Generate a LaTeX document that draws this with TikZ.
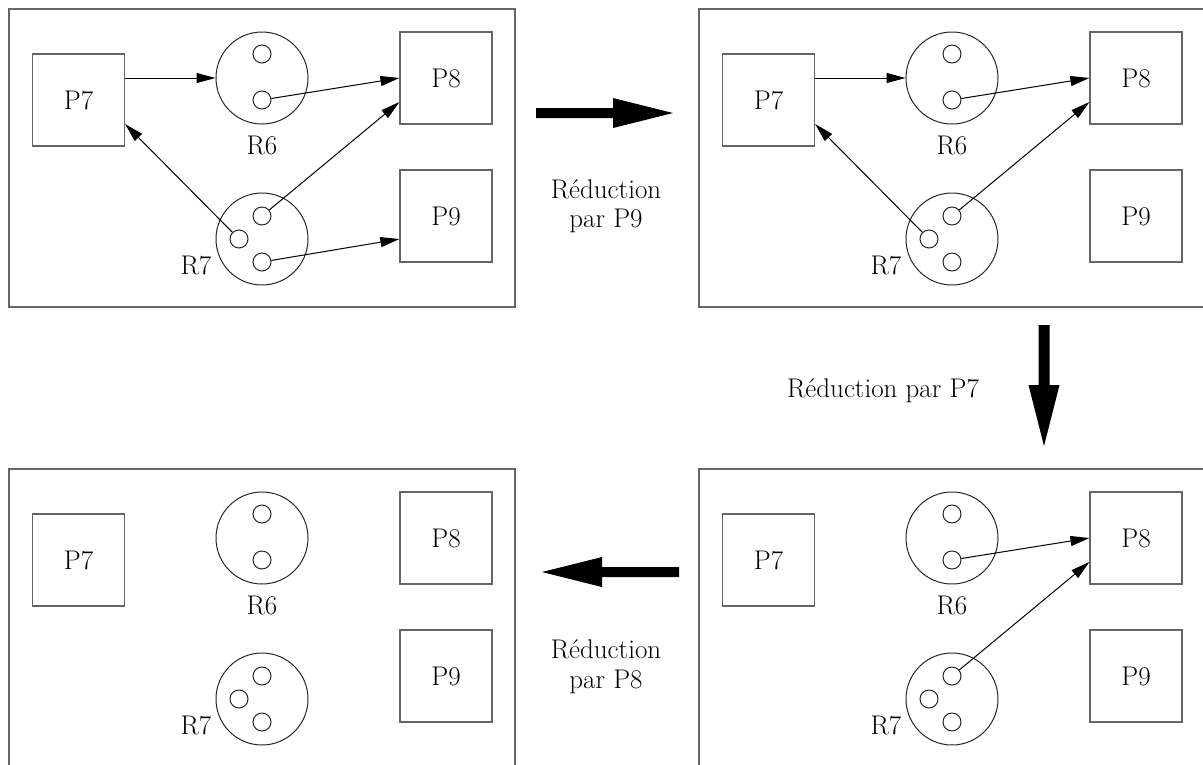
\documentclass[tikz,border=0pt]{standalone}
\usetikzlibrary{arrows.meta,calc}
\tikzset{
  frame/.style={draw=black!60, line width=1.3pt, inner sep=0pt, minimum width=506pt, minimum height=298pt},
  proc/.style={draw=black!60, line width=1.2pt, minimum width=92pt, minimum height=92pt, inner sep=0pt, font=\fontsize{27}{32}\selectfont},
  res/.style={circle, draw=black!85, line width=1pt, minimum size=92pt, inner sep=0pt},
  tok/.style={circle, draw=black!85, line width=1pt, minimum size=18pt, inner sep=0pt},
  lbl/.style={font=\fontsize{27}{32}\selectfont, inner sep=0pt},
  conn/.style={draw=black, line width=1pt, -{Triangle[length=19pt,width=10pt]}},
  bigarrow/.style={fill=black},
}
\newcommand\rgpanel[3]{%
\begin{scope}[shift={#1}, name prefix=#2-]
  \node[frame] (F) at (262,158) {};
  \node[proc] (P7) at (78.5,100) {P7};
  \node[proc] (P8) at (446,78) {P8};
  \node[proc] (P9) at (446,216) {P9};
  \node[res] (R6) at (262,78) {};
  \node[tok] (R6a) at (262,54) {};
  \node[tok] (R6b) at (262,100) {};
  \node[lbl] (L6) at (262,145) {R6};
  \node[res] (R7) at (262,239) {};
  \node[tok] (R7a) at (262,216) {};
  \node[tok] (R7b) at (239,239) {};
  \node[tok] (R7c) at (262,262) {};
  \node[lbl] (L7) at (196,265) {R7};
  #3
\end{scope}}
\begin{document}
\begin{tikzpicture}[x=1pt, y=-1pt]
  \useasboundingbox (0,0) rectangle (1203,764);
  \clip (0,0) rectangle (1203,764);
  % top-left
  \rgpanel{(0,0)}{tl}{%
    \draw[conn] (P7.east |- R6.west) -- (R6.west);
    \draw[conn] (R6b) -- (P8.west);
    \draw[conn] (R7b) -- ($(P7.east)+(0,24)$);
    \draw[conn] (R7a) -- ($(P8.west)+(0,24)$);
    \draw[conn] (R7c) -- ($(P9.west)+(0,23)$);
  }
  % top-right
  \rgpanel{(690,0)}{tr}{%
    \draw[conn] (P7.east |- R6.west) -- (R6.west);
    \draw[conn] (R6b) -- (P8.west);
    \draw[conn] (R7b) -- ($(P7.east)+(0,24)$);
    \draw[conn] (R7a) -- ($(P8.west)+(0,24)$);
  }
  % bottom-right
  \rgpanel{(690,460)}{br}{%
    \draw[conn] (R6b) -- (P8.west);
    \draw[conn] (R7a) -- ($(P8.west)+(0,24)$);
  }
  % bottom-left
  \rgpanel{(0,460)}{bl}{}
  % big arrows
  \fill[bigarrow] (536,108) -- (613,108) -- (613,98) -- (673,113) -- (613,128) -- (613,118) -- (536,118) -- cycle;
  \fill[bigarrow] (1038.5,325) -- (1049.5,325) -- (1049.5,385) -- (1059.5,385) -- (1044,446) -- (1028.5,385) -- (1038.5,385) -- cycle;
  \fill[bigarrow] (679,567) -- (602,567) -- (602,557) -- (542,572) -- (602,587) -- (602,577) -- (679,577) -- cycle;
  % labels
  \node[lbl, anchor=base] (t1a) at (606,198) {Réduction};
  \node[lbl, anchor=base] (t1b) at (606,227) {par P9};
  \node[lbl, anchor=base] (t2) at (883,397) {Réduction par P7};
  \node[lbl, anchor=base] (t3a) at (606,658) {Réduction};
  \node[lbl, anchor=base] (t3b) at (606,688) {par P8};
\end{tikzpicture}
\end{document}
